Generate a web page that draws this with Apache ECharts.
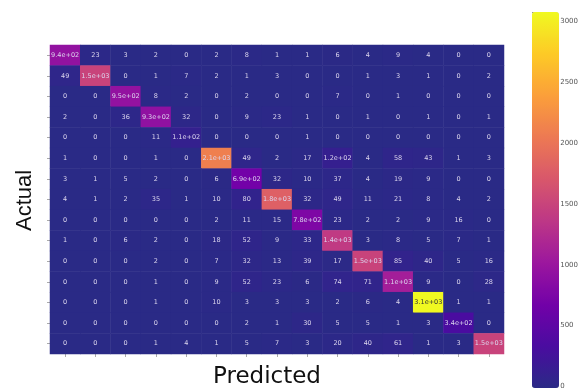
<!DOCTYPE html>
<html>
<head>
<meta charset="utf-8">
<script src="https://cdn.jsdelivr.net/npm/echarts@6/dist/echarts.min.js"></script>
<style>html,body{margin:0;padding:0;background:#fff;}#c{width:581px;height:390px;}</style>
</head>
<body>
<div id="c"></div>
<script>
var categories = ['0','1','2','3','4','5','6','7','8','9','10','11','12','13','14'];
var matrix = [
  [940, 23, 3, 2, 0, 2, 8, 1, 1, 6, 4, 9, 4, 0, 0],
  [49, 1500, 0, 1, 7, 2, 1, 3, 0, 0, 1, 3, 1, 0, 2],
  [0, 0, 950, 8, 2, 0, 2, 0, 0, 7, 0, 1, 0, 0, 0],
  [2, 0, 36, 930, 32, 0, 9, 23, 1, 0, 1, 0, 1, 0, 1],
  [0, 0, 0, 11, 110, 0, 0, 0, 1, 0, 0, 0, 0, 0, 0],
  [1, 0, 0, 1, 0, 2100, 49, 2, 17, 120, 4, 58, 43, 1, 3],
  [3, 1, 5, 2, 0, 6, 690, 32, 10, 37, 4, 19, 9, 0, 0],
  [4, 1, 2, 35, 1, 10, 80, 1800, 32, 49, 11, 21, 8, 4, 2],
  [0, 0, 0, 0, 0, 2, 11, 15, 780, 23, 2, 2, 9, 16, 0],
  [1, 0, 6, 2, 0, 18, 52, 9, 33, 1400, 3, 8, 5, 7, 1],
  [0, 0, 0, 2, 0, 7, 32, 13, 39, 17, 1500, 85, 40, 5, 16],
  [0, 0, 0, 1, 0, 9, 52, 23, 6, 74, 71, 1100, 9, 0, 28],
  [0, 0, 0, 1, 0, 10, 3, 3, 3, 2, 6, 4, 3100, 1, 1],
  [0, 0, 0, 0, 0, 0, 2, 1, 30, 5, 5, 1, 3, 340, 0],
  [0, 0, 0, 1, 4, 1, 5, 7, 3, 20, 40, 61, 1, 3, 1500]
];
var colorbarTicks = [0, 500, 1000, 1500, 2000, 2500, 3000];

var data = [];
for (var r = 0; r < matrix.length; r++) {
  for (var c = 0; c < matrix[r].length; c++) {
    var v = matrix[r][c];
    var item = { value: [c, r, v] };
    if (v > 2600) item.label = { color: '#333' };
    data.push(item);
  }
}
function fmt(v) {
  if (v < 100) return String(v);
  var e = Math.floor(Math.log10(v));
  var m = v / Math.pow(10, e);
  var s = m.toFixed(1);
  return s + 'e+' + (e < 10 ? '0' + e : e);
}

var chart = echarts.init(document.getElementById('c'));
chart.setOption({
  backgroundColor: '#fff',
  animation: false,
  grid: [
    { left: 50, top: 45, width: 454, height: 309 },
    { left: 532, top: 12, width: 27, height: 376 }
  ],
  xAxis: [
    { type: 'category', data: categories, gridIndex: 0,
      axisLine: { show: false }, axisLabel: { show: false },
      axisTick: { show: true, alignWithLabel: true, length: 3, lineStyle: { color: '#aaa' } },
      splitLine: { show: false } },
    { type: 'value', gridIndex: 1, show: false, min: 0, max: 1 }
  ],
  yAxis: [
    { type: 'category', data: categories, inverse: true, gridIndex: 0,
      axisLine: { show: false }, axisLabel: { show: false },
      axisTick: { show: true, alignWithLabel: true, length: 3, lineStyle: { color: '#aaa' } },
      splitLine: { show: false } },
    { type: 'value', gridIndex: 1, position: 'right', min: 0, max: 3075, interval: 500,
      axisLine: { show: false }, splitLine: { show: false },
      axisTick: { show: true, length: 3, lineStyle: { color: '#888' } },
      axisLabel: { fontSize: 7, color: '#555', margin: 4, fontFamily: 'DejaVu Sans',
        formatter: function (v) { return colorbarTicks.indexOf(v) >= 0 ? String(v) : ''; } } }
  ],
  visualMap: {
    type: 'continuous', min: 0, max: 3075, seriesIndex: 0,
    left: 532, top: 12, itemWidth: 27, itemHeight: 376, padding: 0,
    calculable: false, text: ['', ''], showLabel: false, orient: 'vertical',
    inRange: { color: ['#2a2a86', '#4a0ca0', '#7201a8', '#9c179e', '#bd3786', '#d8576b', '#ed7953', '#fb9f3a', '#fdca26', '#f0f921'] }
  },
  series: [
    { type: 'heatmap', xAxisIndex: 0, yAxisIndex: 0, data: data,
      label: { show: true, fontSize: 6.5, color: '#dcd6ee', fontFamily: 'DejaVu Sans',
        formatter: function (p) { return fmt(p.value[2]); } },
      itemStyle: { borderWidth: 0 } },
    { type: 'line', xAxisIndex: 1, yAxisIndex: 1, data: [], silent: true }
  ],
  graphic: [
    { type: 'text', x: 213, y: 366,
      style: { text: 'Predicted', font: '23px "DejaVu Sans"', fill: '#111' } },
    { type: 'text', x: 14, y: 231, rotation: Math.PI / 2,
      style: { text: 'Actual', font: '22px "Liberation Sans"', fill: '#111' } }
  ]
});
</script>
</body>
</html>
